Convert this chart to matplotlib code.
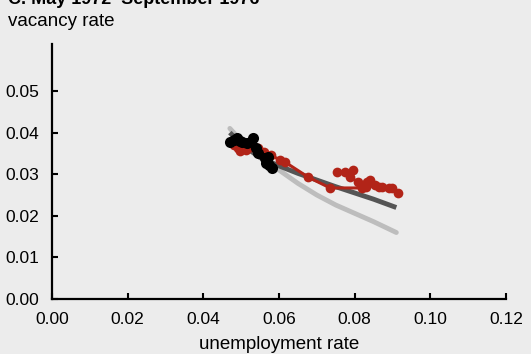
import matplotlib
matplotlib.use("Agg")
import matplotlib.pyplot as plt
from matplotlib.ticker import FormatStrFormatter

# model curves (unemployment rate, vacancy rate)
curve_u = [0.047, 0.050, 0.055, 0.060, 0.065, 0.070, 0.075, 0.080, 0.085, 0.091]
curve_light = [0.0410, 0.0380, 0.0340, 0.0310, 0.0278, 0.0250, 0.0226, 0.0206, 0.0186, 0.0160]
curve_dark = [0.0400, 0.0372, 0.0340, 0.0320, 0.0302, 0.0286, 0.0270, 0.0255, 0.0240, 0.0220]

# red series, monthly path
red_u = [0.0492, 0.0480, 0.0497, 0.0513, 0.0529, 0.0545, 0.0560, 0.0580, 0.0603, 0.0616,
         0.0677, 0.0735, 0.0818, 0.0828, 0.0865, 0.0890, 0.0915, 0.0899, 0.0872, 0.0854,
         0.0841, 0.0833, 0.0830, 0.0809, 0.0788, 0.0796, 0.0775, 0.0753]
red_v = [0.0363, 0.0370, 0.0355, 0.0358, 0.0365, 0.0363, 0.0353, 0.0345, 0.0334, 0.0329,
         0.0293, 0.0267, 0.0267, 0.0272, 0.0270, 0.0267, 0.0255, 0.0267, 0.0269, 0.0274,
         0.0286, 0.0281, 0.0269, 0.0281, 0.0293, 0.0310, 0.0305, 0.0305]

# black points
black_u = [0.0471, 0.0480, 0.0489, 0.0497, 0.0502, 0.0515, 0.0531, 0.0540, 0.0545, 0.0563,
           0.0571, 0.0565, 0.0574, 0.0581]
black_v = [0.0377, 0.0382, 0.0387, 0.0380, 0.0377, 0.0375, 0.0387, 0.0363, 0.0351, 0.0339,
           0.0341, 0.0327, 0.0322, 0.0315]

bg = "#ececec"
plt.rcParams["font.family"] = ["Liberation Sans", "DejaVu Sans"]

fig = plt.figure(figsize=(5.31, 3.54), dpi=100, facecolor=bg)
ax = fig.add_axes([0.098, 0.155, 0.855, 0.721], facecolor=bg)

ax.plot(curve_u, curve_light, color="#bdbdbd", lw=3.5, solid_capstyle="round", zorder=2)
ax.plot(curve_u, curve_dark, color="#555555", lw=3.5, solid_capstyle="butt", zorder=3)
ax.plot(red_u, red_v, color="#b22418", lw=2.2, marker="o", markersize=7,
        markeredgewidth=0, zorder=4)
ax.scatter(black_u, black_v, s=64, color="black", linewidths=0, zorder=5)

ax.set_xlim(0, 0.12)
ax.set_ylim(0, 0.0613)
ax.set_xticks([0.00, 0.02, 0.04, 0.06, 0.08, 0.10, 0.12])
ax.set_yticks([0.00, 0.01, 0.02, 0.03, 0.04, 0.05])
ax.xaxis.set_major_formatter(FormatStrFormatter("%.2f"))
ax.yaxis.set_major_formatter(FormatStrFormatter("%.2f"))
ax.tick_params(direction="in", length=4, width=1.5, labelsize=12.5)
ax.tick_params(axis="x", pad=9)
ax.tick_params(axis="y", pad=9)

for side in ["top", "right"]:
    ax.spines[side].set_visible(False)
for side in ["left", "bottom"]:
    ax.spines[side].set_linewidth(1.6)

ax.set_xlabel("unemployment rate", fontsize=13.5, labelpad=7)

fig.text(8 / 531, 1 - 4 / 354, "C. May 1972\u2013September 1976", fontsize=13,
         fontweight="bold", va="baseline", ha="left")
fig.text(8 / 531, 1 - 26 / 354, "vacancy rate", fontsize=13.5, va="baseline", ha="left")

fig.savefig("out.png", dpi=100, facecolor=bg)
